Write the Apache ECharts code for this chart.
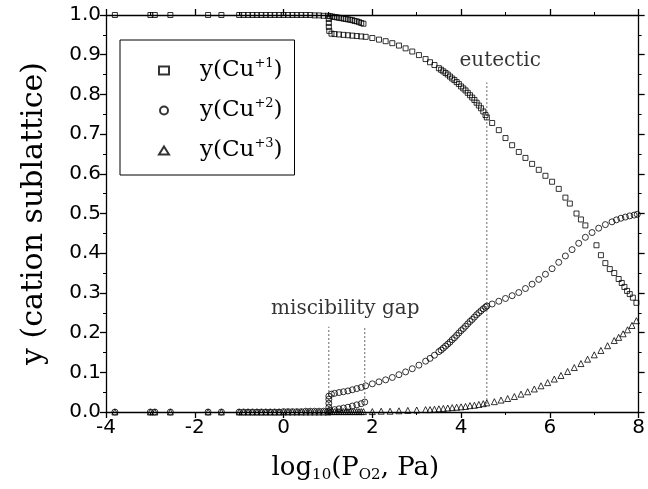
<!DOCTYPE html>
<html>
<head>
<meta charset="utf-8">
<script src="https://cdn.jsdelivr.net/npm/echarts@6/dist/echarts.min.js"></script>
<style>
  html, body { margin: 0; padding: 0; background: #fff; }
  #chart { width: 648px; height: 489px; }
</style>
</head>
<body>
<div id="chart"></div>
<script>
// y(Cu+1) - squares
const cu1X = [-3.8, -3.0, -2.9, -2.55, -1.7, -1.4,
  -1.0, -0.9, -0.8, -0.7, -0.6, -0.5, -0.4, -0.3, -0.2, -0.1, 0, 0.1, 0.2, 0.3, 0.4, 0.5, 0.6, 0.7, 0.8, 0.9, 1.0,
  1.05, 1.1, 1.15, 1.2, 1.25, 1.3, 1.35, 1.4, 1.45, 1.5, 1.55, 1.6, 1.65, 1.7, 1.75, 1.8,
  1.02, 1.02, 1.02, 1.03,
  1.08, 1.15, 1.25, 1.35, 1.45, 1.55, 1.65, 1.75, 1.85, 2.0, 2.15, 2.3, 2.45, 2.6, 2.75, 2.9, 3.05, 3.2, 3.3, 3.4,
  3.5, 3.55, 3.6, 3.65, 3.7, 3.75, 3.8, 3.85, 3.9, 3.95, 4.0, 4.05, 4.1, 4.15, 4.2, 4.25, 4.3, 4.35, 4.4, 4.45, 4.5, 4.55, 4.58,
  4.7, 4.85, 5.0, 5.15, 5.3, 5.45, 5.6, 5.75, 5.9, 6.05, 6.2, 6.35, 6.45, 6.6, 6.7, 6.8,
  7.05, 7.15, 7.25, 7.35, 7.45, 7.55, 7.62, 7.68, 7.74, 7.8, 7.87, 7.95];
const cu1Y = [1, 1, 1, 1, 1, 1,
  1, 1, 1, 1, 1, 1, 1, 1, 1, 1, 1, 1, 1, 1, 1, 1, 1, 0.999, 0.999, 0.998, 0.998,
  0.997, 0.996, 0.995, 0.994, 0.993, 0.992, 0.991, 0.99, 0.989, 0.988, 0.987, 0.985, 0.984, 0.982, 0.98, 0.978,
  0.99, 0.98, 0.97, 0.96,
  0.953, 0.952, 0.951, 0.95, 0.949, 0.948, 0.947, 0.946, 0.945, 0.942, 0.938, 0.934, 0.929, 0.923, 0.916, 0.908, 0.899, 0.889, 0.881, 0.874,
  0.866, 0.862, 0.858, 0.854, 0.85, 0.845, 0.84, 0.836, 0.831, 0.826, 0.82, 0.815, 0.81, 0.804, 0.798, 0.792, 0.786, 0.779, 0.772, 0.765, 0.757, 0.748, 0.742,
  0.728, 0.71, 0.69, 0.672, 0.655, 0.64, 0.625, 0.61, 0.595, 0.58, 0.562, 0.54, 0.525, 0.5, 0.485, 0.47,
  0.42, 0.395, 0.375, 0.36, 0.35, 0.335, 0.325, 0.315, 0.305, 0.297, 0.288, 0.275];

// y(Cu+2) - circles
const cu2X = [-3.8, -3.0, -2.9, -2.55, -1.7, -1.4,
  -1.0, -0.9, -0.8, -0.7, -0.6, -0.5, -0.4, -0.3, -0.2, -0.1, 0, 0.1, 0.2, 0.3, 0.4, 0.5, 0.6, 0.7, 0.8, 0.9, 1.0,
  1.05, 1.15, 1.25, 1.35, 1.45, 1.55, 1.65, 1.75, 1.83,
  1.02, 1.02, 1.02, 1.02,
  1.08, 1.15, 1.25, 1.35, 1.45, 1.55, 1.65, 1.75, 1.85, 2.0, 2.15, 2.3, 2.45, 2.6, 2.75, 2.9, 3.05, 3.2, 3.3, 3.4,
  3.5, 3.55, 3.6, 3.65, 3.7, 3.75, 3.8, 3.85, 3.9, 3.95, 4.0, 4.05, 4.1, 4.15, 4.2, 4.25, 4.3, 4.35, 4.4, 4.45, 4.5, 4.55, 4.58,
  4.7, 4.85, 5.0, 5.15, 5.3, 5.45, 5.6, 5.75, 5.9, 6.05, 6.2, 6.35, 6.5, 6.65, 6.8, 6.95, 7.1, 7.25, 7.4, 7.5, 7.6, 7.7, 7.8, 7.9, 7.97];
const cu2Y = [0, 0, 0, 0, 0, 0,
  0, 0, 0, 0, 0, 0, 0, 0, 0, 0, 0.001, 0.001, 0.001, 0.001, 0.001, 0.002, 0.002, 0.002, 0.002, 0.002, 0.002,
  0.004, 0.006, 0.008, 0.01, 0.012, 0.015, 0.018, 0.021, 0.025,
  0.012, 0.022, 0.032, 0.04,
  0.045, 0.047, 0.049, 0.051, 0.053, 0.056, 0.059, 0.062, 0.066, 0.071, 0.076, 0.081, 0.087, 0.094, 0.101, 0.109, 0.118, 0.128, 0.135, 0.143,
  0.152, 0.156, 0.161, 0.166, 0.171, 0.176, 0.182, 0.187, 0.193, 0.199, 0.205, 0.21, 0.216, 0.222, 0.228, 0.233, 0.239, 0.245, 0.25, 0.255, 0.26, 0.264, 0.267,
  0.272, 0.279, 0.286, 0.293, 0.301, 0.311, 0.322, 0.334, 0.347, 0.361, 0.377, 0.393, 0.409, 0.425, 0.44, 0.452, 0.463, 0.472, 0.479, 0.484, 0.488, 0.491, 0.494, 0.496, 0.498];

// y(Cu+3) - triangles
const cu3X = [-3.8, -3.0, -2.9, -2.55, -1.7, -1.4,
  -1.0, -0.9, -0.8, -0.7, -0.6, -0.5, -0.4, -0.3, -0.2, -0.1, 0, 0.1, 0.2, 0.3, 0.4, 0.5, 0.6, 0.7, 0.8, 0.9, 1.0,
  1.05, 1.1, 1.15, 1.2, 1.25, 1.3, 1.35, 1.4, 1.45, 1.5, 1.55, 1.6, 1.65, 1.7, 1.75, 1.8,
  2.0, 2.2, 2.4, 2.6, 2.8, 3.0, 3.2, 3.3, 3.4, 3.5, 3.6, 3.7, 3.8, 3.9, 4.0, 4.1, 4.2, 4.3, 4.4, 4.5, 4.58,
  4.75, 4.9, 5.05, 5.2, 5.35, 5.5, 5.65, 5.8, 5.95, 6.1, 6.25, 6.4, 6.55, 6.7, 6.85, 7.0, 7.15, 7.3, 7.45, 7.55, 7.65, 7.75, 7.85, 7.95];
const cu3Y = [0, 0, 0, 0, 0, 0,
  0, 0, 0, 0, 0, 0, 0, 0, 0, 0, 0, 0, 0, 0, 0, 0, 0, 0, 0, 0, 0,
  0.001, 0.001, 0.001, 0.001, 0.001, 0.001, 0.001, 0.001, 0.001, 0.001, 0.001, 0.001, 0.001, 0.001, 0.001, 0.001,
  0.001, 0.002, 0.002, 0.003, 0.004, 0.005, 0.006, 0.006, 0.007, 0.008, 0.009, 0.01, 0.011, 0.012, 0.013, 0.014, 0.016, 0.017, 0.019, 0.021, 0.023,
  0.026, 0.03, 0.034, 0.039, 0.045, 0.051, 0.058, 0.066, 0.074, 0.083, 0.092, 0.102, 0.112, 0.122, 0.133, 0.144, 0.155, 0.167, 0.18, 0.188, 0.197, 0.207, 0.218, 0.23];

// dotted guide lines (data coordinates)
const gapLine1 = [[1.02, 0], [1.02, 0.215]];
const gapLine2 = [[1.83, 0.025], [1.83, 0.215]];
const eutecticLine = [[4.58, 0.02], [4.58, 0.83]];
const notes = [[1.39, 0.26, 'miscibility gap'], [4.88, 0.885, 'eutectic']];

const xTicks = { min: -4, max: 8, interval: 2 };
const yTicks = { min: 0, max: 1, interval: 0.1 };

const zip = (xs, ys) => xs.map((x, i) => [x, ys[i]]);

const serif = 'DejaVu Serif';
const sans = 'DejaVu Sans';

const chart = echarts.init(document.getElementById('chart'));

const axisCommon = {
  axisLine: { onZero: false, lineStyle: { color: '#000', width: 1.3 } },
  axisTick: { show: true, inside: false, length: 6, lineStyle: { color: '#000', width: 1.3 } },
  minorTick: { show: true, splitNumber: 2, length: 3, lineStyle: { color: '#000', width: 1 } },
  splitLine: { show: false }
};

const hollow = { color: 'transparent', borderColor: '#000', borderWidth: 1 };

const dotted = { color: '#666', width: 1, type: [2, 2] };

const option = {
  animation: false,
  backgroundColor: '#fff',
  grid: { left: 106, right: 5, top: 15, bottom: 77 },
  legend: {
    data: ['Cu+1', 'Cu+2', 'Cu+3'],
    orient: 'vertical',
    left: 120,
    top: 40,
    padding: [17, 12, 11, 38],
    itemGap: 13,
    itemWidth: 10,
    itemHeight: 8,
    borderColor: '#000',
    borderWidth: 1,
    backgroundColor: '#fff',
    formatter: n => '{b|y(Cu}{s|+' + n.slice(3) + '}{b|)}',
    textStyle: {
      padding: [0, 0, 0, 26],
      rich: {
        b: { fontFamily: serif, fontSize: 23, color: '#000', lineHeight: 27 },
        s: { fontFamily: serif, fontSize: 13, color: '#000', lineHeight: 27, padding: [0, 0, 14, 0] }
      }
    }
  },
  xAxis: [
    Object.assign({
      type: 'value', position: 'bottom',
      min: xTicks.min, max: xTicks.max, interval: xTicks.interval,
      name: '{t|log}{u|10}{t|(P}{u|O2}{t|, Pa)}',
      nameLocation: 'middle',
      nameGap: 41,
      nameTextStyle: {
        padding: [0, 34, 0, 0],
        rich: {
          t: { fontFamily: serif, fontSize: 26, color: '#000' },
          u: { fontFamily: serif, fontSize: 15, color: '#000', padding: [15, 0, 0, 0] }
        }
      },
      axisLabel: { fontFamily: sans, fontSize: 20, color: '#000', margin: 6 }
    }, axisCommon),
    Object.assign({
      type: 'value', position: 'top',
      min: xTicks.min, max: xTicks.max, interval: xTicks.interval,
      axisLabel: { show: false }
    }, axisCommon)
  ],
  yAxis: [
    Object.assign({
      type: 'value', position: 'left',
      min: yTicks.min, max: yTicks.max, interval: yTicks.interval,
      name: 'y (cation sublattice)',
      nameLocation: 'middle',
      nameGap: 57,
      nameTextStyle: { fontFamily: serif, fontSize: 30, color: '#000' },
      axisLabel: { fontFamily: sans, fontSize: 20, color: '#000', margin: 5, formatter: v => v.toFixed(1) }
    }, axisCommon),
    Object.assign({
      type: 'value', position: 'right',
      min: yTicks.min, max: yTicks.max, interval: yTicks.interval,
      axisLabel: { show: false }
    }, axisCommon)
  ],
  series: [
    { name: 'gap1', type: 'line', data: gapLine1, showSymbol: false, symbol: 'none', lineStyle: dotted, silent: true, z: 1 },
    { name: 'gap2', type: 'line', data: gapLine2, showSymbol: false, symbol: 'none', lineStyle: dotted, silent: true, z: 1 },
    { name: 'eut', type: 'line', data: eutecticLine, showSymbol: false, symbol: 'none', lineStyle: dotted, silent: true, z: 1 },
    { name: 'Cu+1', type: 'scatter', symbol: 'rect', symbolSize: 5, itemStyle: hollow, data: zip(cu1X, cu1Y), z: 3 },
    { name: 'Cu+2', type: 'scatter', symbol: 'circle', symbolSize: 6, itemStyle: hollow, data: zip(cu2X, cu2Y), z: 3 },
    { name: 'Cu+3', type: 'scatter', symbol: 'triangle', symbolSize: 6, itemStyle: hollow, data: zip(cu3X, cu3Y), z: 3 },
    {
      name: 'notes', type: 'scatter', symbolSize: 0, silent: true, z: 4,
      data: notes,
      label: {
        show: true, position: 'inside',
        formatter: p => p.data[2],
        fontFamily: serif, fontSize: 20, color: '#000'
      }
    }
  ]
};

chart.setOption(option);
</script>
</body>
</html>
